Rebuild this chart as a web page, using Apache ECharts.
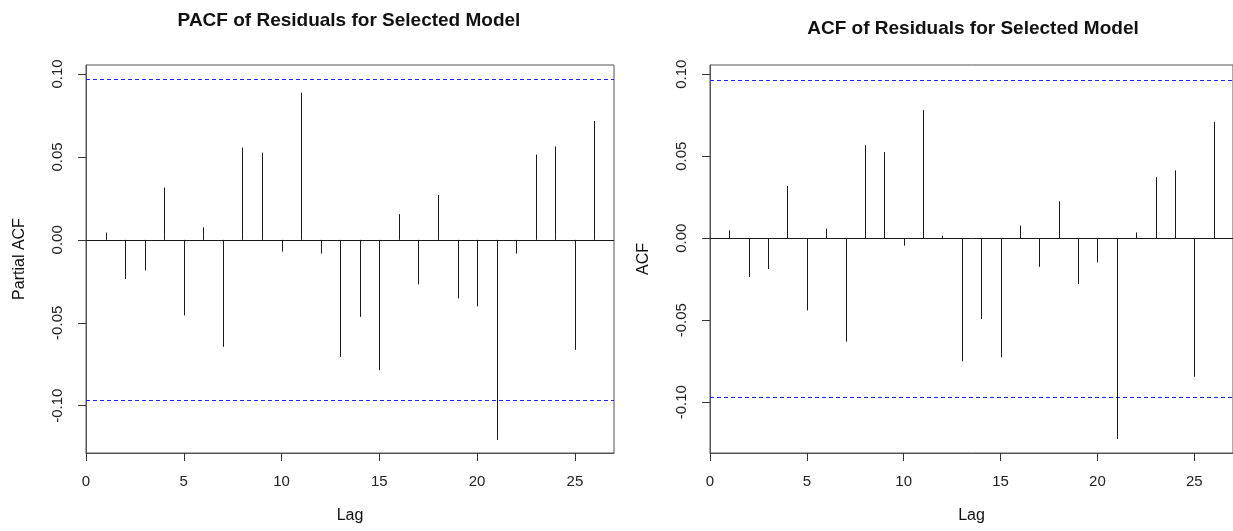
<!DOCTYPE html>
<html>
<head>
<meta charset="utf-8">
<script src="https://cdn.jsdelivr.net/npm/echarts@6/dist/echarts.min.js"></script>
<style>html,body{margin:0;padding:0;background:#fff;}#c{width:1233px;height:531px;}</style>
</head>
<body>
<div id="c"></div>
<script>
var lags = [1,2,3,4,5,6,7,8,9,10,11,12,13,14,15,16,17,18,19,20,21,22,23,24,25,26];
var pacfValues = [0.0044,-0.0236,-0.0185,0.0315,-0.0456,0.0075,-0.0645,0.0556,0.0526,-0.0071,0.0887,-0.0083,-0.0706,-0.0464,-0.0786,0.0155,-0.0268,0.0270,-0.0353,-0.0401,-0.1206,-0.0083,0.0514,0.0563,-0.0663,0.0716];
var acfValues = [0.0048,-0.0237,-0.0188,0.0318,-0.0440,0.0059,-0.0631,0.0567,0.0525,-0.0046,0.0781,0.0016,-0.0751,-0.0493,-0.0727,0.0077,-0.0175,0.0225,-0.0280,-0.0148,-0.1224,0.0035,0.0372,0.0414,-0.0845,0.0709];
var ciBound = 0.0967;
var xTicks = [0,5,10,15,20,25];
var yTicks = [-0.10,-0.05,0.00,0.05,0.10];
var xRange = [0, 27];
var titles = ['PACF of Residuals for Selected Model','ACF of Residuals for Selected Model'];
var yNames = ['Partial ACF','ACF'];
var xName = 'Lag';

var FONT = 'Liberation Sans, Arial, sans-serif';
var chart = echarts.init(document.getElementById('c'), null, {renderer:'canvas'});

function pairs(vals){ return lags.map(function(l,i){ return [l, vals[i]]; }); }

function renderSpike(params, api){
  var x = api.value(0), v = api.value(1);
  var p0 = api.coord([x, 0]), p1 = api.coord([x, v]);
  var px = Math.round(p0[0]) + 0.5;
  return {type:'line', shape:{x1:px, y1:p0[1], x2:px, y2:p1[1]},
          style:{stroke:'#1a1a1a', lineWidth:1}};
}

function renderHLine(params, api){
  var y = api.value(0);
  var cs = params.coordSys;
  var p = api.coord([cs.x === undefined ? 0 : 0, y]);
  var py = Math.round(p[1]) + 0.5;
  var dashed = api.value(1) === 1;
  return {type:'line', shape:{x1:cs.x, y1:py, x2:cs.x + cs.width, y2:py},
          style:{stroke: dashed ? '#1f1fff' : '#1a1a1a', lineWidth:1, lineDash: dashed ? [4,3] : null}};
}

var grids = [
  {left:86, top:65, width:528, height:388},
  {left:710, top:65, width:528, height:388}
];
var yRanges = [[-0.1285, 0.1054], [-0.1310, 0.1056]];

var xAxes = [], yAxes = [], series = [];
for (var g = 0; g < 2; g++){
  grids[g].show = true;
  grids[g].borderColor = '#555';
  grids[g].borderWidth = 1;
  grids[g].backgroundColor = 'transparent';
  xAxes.push({
    type:'value', gridIndex:g, min:xRange[0], max:xRange[1],
    name:xName, nameLocation:'middle', nameGap:55,
    nameTextStyle:{fontFamily:FONT, fontSize:16, color:'#111'},
    axisLine:{show:true, onZero:false, lineStyle:{color:'#555'}},
    axisTick:{show:true, length:8, customValues:xTicks, lineStyle:{color:'#333'}},
    axisLabel:{customValues:xTicks, margin:21, fontFamily:FONT, fontSize:15, color:'#222'},
    splitLine:{show:false}
  });
  yAxes.push({
    type:'value', gridIndex:g, min:yRanges[g][0], max:yRanges[g][1],
    name:yNames[g], nameLocation:'middle', nameGap:58, nameRotate:90,
    nameTextStyle:{fontFamily:FONT, fontSize:16, color:'#111'},
    axisLine:{show:true, onZero:false, lineStyle:{color:'#555'}},
    axisTick:{show:true, length:8, customValues:yTicks, lineStyle:{color:'#333'}},
    axisLabel:{customValues:yTicks, rotate:90, margin:21, fontFamily:FONT, fontSize:15, color:'#222',
      formatter:function(v){ return (Math.abs(v) < 1e-9 ? 0 : v).toFixed(2); }},
    splitLine:{show:false}
  });
  // reference lines: [yValue, dashedFlag]
  series.push({
    type:'custom', xAxisIndex:g, yAxisIndex:g, silent:true, clip:false,
    data:[[0, 0],[ciBound, 1],[-ciBound, 1]],
    encode:{y:0},
    renderItem: renderHLine
  });
  series.push({
    type:'custom', xAxisIndex:g, yAxisIndex:g,
    data: pairs(g === 0 ? pacfValues : acfValues),
    renderItem: renderSpike,
    clip:true, silent:true
  });
}

chart.setOption({
  animation:false,
  backgroundColor:'#fff',
  grid:grids, xAxis:xAxes, yAxis:yAxes, series:series,
  graphic:[
    {type:'text', x:349, y:21, style:{text:titles[0], x:0, y:0, align:'center', verticalAlign:'middle', font:'bold 19px ' + FONT, fill:'#111'}},
    {type:'text', x:973, y:29, style:{text:titles[1], x:0, y:0, align:'center', verticalAlign:'middle', font:'bold 19px ' + FONT, fill:'#111'}}
  ]
});
</script>
</body>
</html>
